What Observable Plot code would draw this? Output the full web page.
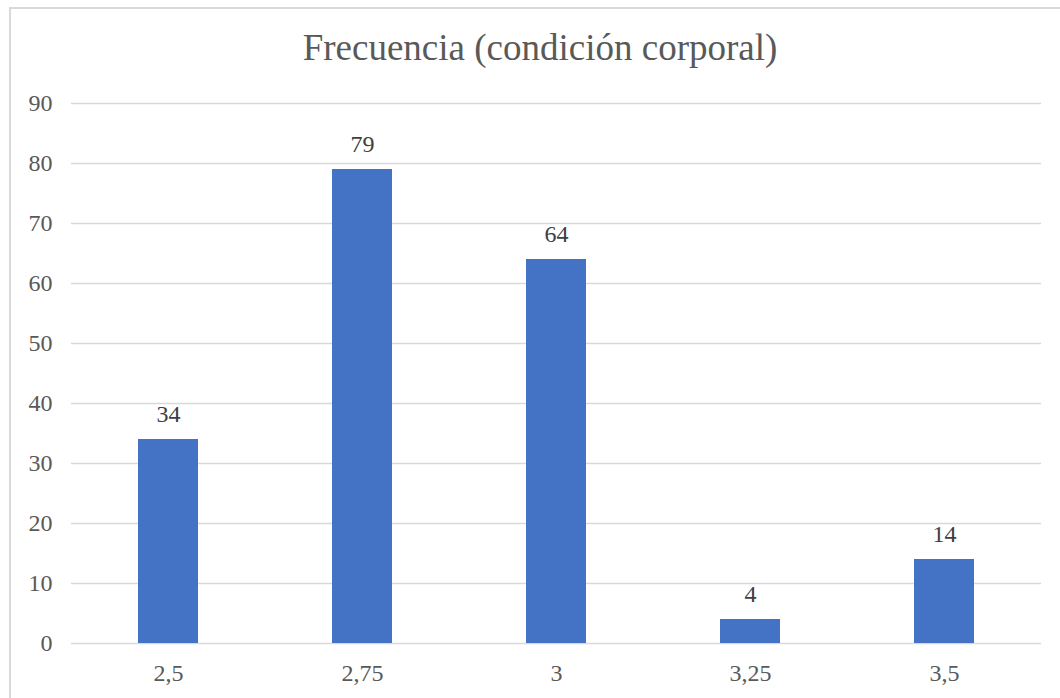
<!DOCTYPE html>
<html>
<head>
<meta charset="utf-8">
<script src="https://cdn.jsdelivr.net/npm/d3@7"></script>
<script src="https://cdn.jsdelivr.net/npm/@observablehq/plot@0.6"></script>
<style>
  html, body { margin: 0; padding: 0; background: #fff; }
  #wrap { position: relative; width: 1060px; height: 698px; overflow: hidden; background: #fff; }
  #frame { position: absolute; left: 9px; top: 7px; width: 1100px; height: 800px;
           border-top: 2px solid #d9d9d9; border-left: 2px solid #d9d9d9; box-sizing: border-box; }
  #title { position: absolute; left: 0; width: 1080px; top: 26px; text-align: center;
           font-family: "Liberation Serif", "Times New Roman", "DejaVu Serif", serif; font-size: 37px; color: #595959; line-height: 44px; }
  #chart { position: absolute; left: 0; top: 0; }
  #chart svg text { font-family: "Liberation Serif", "Times New Roman", "DejaVu Serif", serif; }
</style>
</head>
<body>
<div id="wrap">
  <div id="frame"></div>
  <div id="chart"></div>
  <div id="title">Frecuencia (condición corporal)</div>
</div>
<script>
const categories = ["2,5", "2,75", "3", "3,25", "3,5"];
const frequencies = [34, 79, 64, 4, 14];
const yTicks = [0, 10, 20, 30, 40, 50, 60, 70, 80, 90];

const data = categories.map((c, i) => ({category: c, value: frequencies[i]}));

const chart = Plot.plot({
  width: 1060,
  height: 698,
  marginLeft: 71,
  marginRight: 19,
  marginTop: 103,
  marginBottom: 55,
  style: {fontFamily: "Liberation Serif, Times New Roman, serif", fontSize: "24px", color: "#595959", background: "transparent"},
  x: {domain: categories, paddingInner: 0.69, paddingOuter: 0.345, label: null, tickSize: 0, tickPadding: 20},
  y: {domain: [0, 90], ticks: yTicks, label: null, tickSize: 0, tickPadding: 19},
  marks: [
    Plot.ruleY(yTicks, {stroke: "#d9d9d9", strokeWidth: 1.5}),
    Plot.barY(data, {x: "category", y: "value", fill: "#4472C4"}),
    Plot.text(data, {x: "category", y: "value", text: d => String(d.value), dy: -25, fill: "#404040", fontSize: 24}),
    Plot.axisX({tickSize: 0, tickPadding: 20, fontSize: 24, fill: "#595959"}),
    Plot.axisY({ticks: yTicks, tickSize: 0, tickPadding: 19, fontSize: 24, fill: "#595959"})
  ]
});
document.getElementById("chart").appendChild(chart);
</script>
</body>
</html>
